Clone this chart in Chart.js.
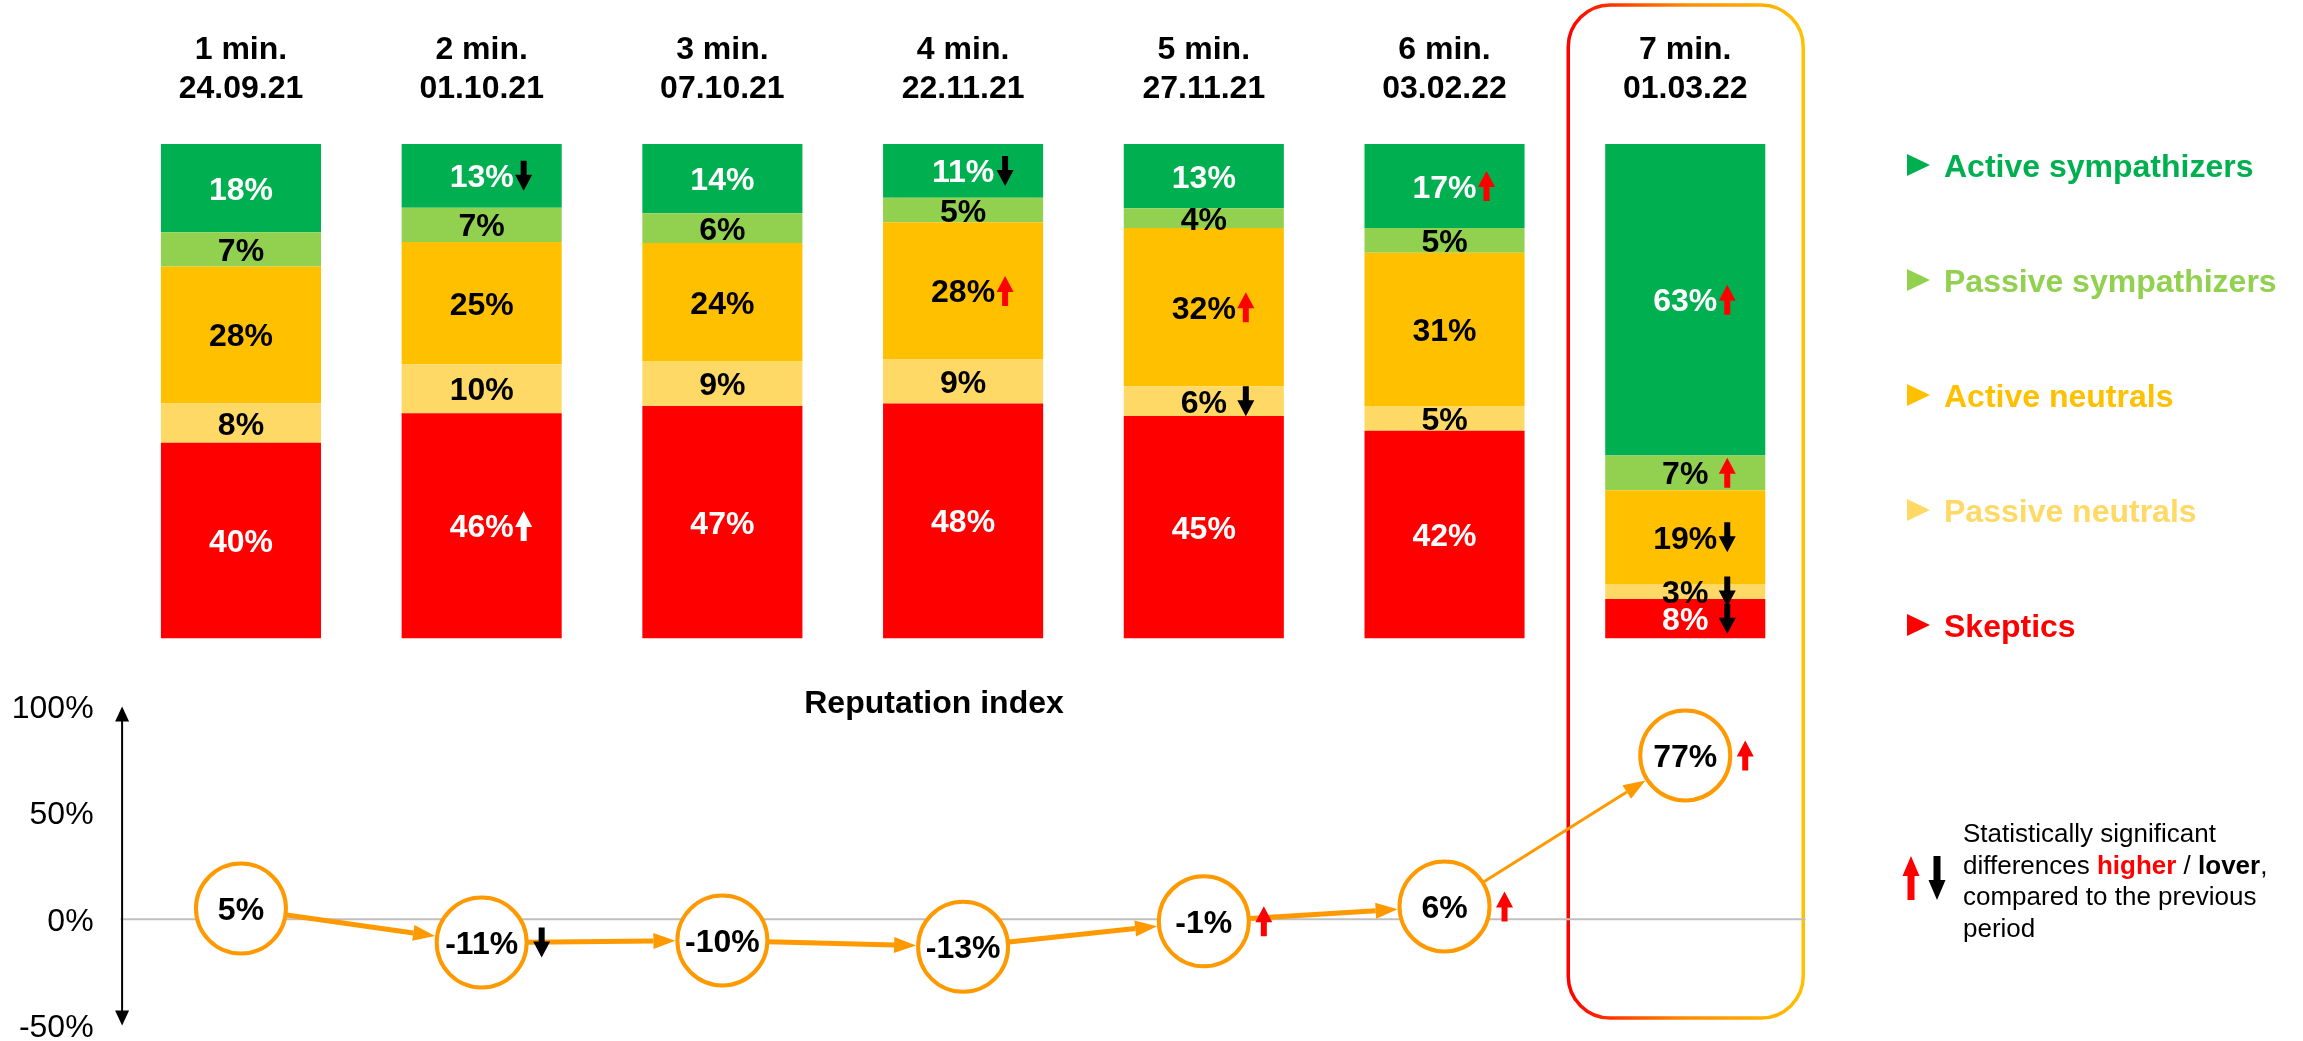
<!DOCTYPE html>
<html>
<head>
<meta charset="utf-8">
<script src="https://cdn.jsdelivr.net/npm/chart.js@4.4.0/dist/chart.umd.min.js"></script>
<style>
	html, body { margin: 0; padding: 0; background: #fff; overflow: hidden; }
	#wrap { position: relative; width: 2303px; height: 1041px; }
	canvas { position: absolute; left: 0; top: 0; }
</style>
</head>
<body>
<div id="wrap">
	<canvas id="bars" width="2303" height="1041"></canvas>
	<canvas id="index" width="2303" height="1041"></canvas>
</div>
<script>
// waves and dates
const periods = ['1 min.', '2 min.', '3 min.', '4 min.', '5 min.', '6 min.', '7 min.'];
const dates = ['24.09.21', '01.10.21', '07.10.21', '22.11.21', '27.11.21', '03.02.22', '01.03.22'];

// shares, % (bottom to top of the stack)
const skeptics = [40, 46, 47, 48, 45, 42, 8];
const passiveNeutrals = [8, 10, 9, 9, 6, 5, 3];
const activeNeutrals = [28, 25, 24, 28, 32, 31, 19];
const passiveSympathizers = [7, 7, 6, 5, 4, 5, 7];
const activeSympathizers = [18, 13, 14, 11, 13, 17, 63];

// significant changes vs previous wave: 1 higher, -1 lower
const sigSkeptics = [0, 1, 0, 0, 0, 0, -1];
const sigPassiveNeutrals = [0, 0, 0, 0, -1, 0, -1];
const sigActiveNeutrals = [0, 0, 0, 1, 1, 0, -1];
const sigPassiveSympathizers = [0, 0, 0, 0, 0, 0, 1];
const sigActiveSympathizers = [0, -1, 0, -1, 0, 1, 1];

// reputation index
const reputation = [5, -11, -10, -13, -1, 6, 77];
const sigReputation = [0, -1, 0, 0, 1, 1, 1];
const indexTicks = [100, 50, 0, -50];

const FONT = "'Liberation Sans', Arial, Helvetica, sans-serif";
const ORANGE = '#FF9900';

const series = [
	{label: 'Skeptics', values: skeptics, sig: sigSkeptics, color: '#FF0000', text: '#fff'},
	{label: 'Passive neutrals', values: passiveNeutrals, sig: sigPassiveNeutrals, color: '#FFD966', text: '#000'},
	{label: 'Active neutrals', values: activeNeutrals, sig: sigActiveNeutrals, color: '#FFC000', text: '#000'},
	{label: 'Passive sympathizers', values: passiveSympathizers, sig: sigPassiveSympathizers, color: '#92D050', text: '#000'},
	{label: 'Active sympathizers', values: activeSympathizers, sig: sigActiveSympathizers, color: '#00B050', text: '#fff'},
];

// each column is shown as 100%
const totals = periods.map((p, i) => series.reduce((s, d) => s + d.values[i], 0));

function sigArrow(ctx, x, y, dir, color, h, headW, headL, shaftW) {
	h = h || 30; headW = headW || 17; headL = headL || 16; shaftW = shaftW || 6;
	const top = y - h / 2, bot = y + h / 2;
	ctx.save();
	ctx.fillStyle = color;
	ctx.beginPath();
	if (dir > 0) {
		ctx.moveTo(x, top);
		ctx.lineTo(x + headW / 2, top + headL);
		ctx.lineTo(x + shaftW / 2, top + headL);
		ctx.lineTo(x + shaftW / 2, bot);
		ctx.lineTo(x - shaftW / 2, bot);
		ctx.lineTo(x - shaftW / 2, top + headL);
		ctx.lineTo(x - headW / 2, top + headL);
	} else {
		ctx.moveTo(x, bot);
		ctx.lineTo(x + headW / 2, bot - headL);
		ctx.lineTo(x + shaftW / 2, bot - headL);
		ctx.lineTo(x + shaftW / 2, top);
		ctx.lineTo(x - shaftW / 2, top);
		ctx.lineTo(x - shaftW / 2, bot - headL);
		ctx.lineTo(x - headW / 2, bot - headL);
	}
	ctx.closePath();
	ctx.fill();
	ctx.restore();
}

function sigColor(dir, bg) {
	if (dir < 0) return '#000';
	return bg === '#FF0000' ? '#fff' : '#FF0000';
}

const barDecor = {
	id: 'barDecor',
	afterDatasetsDraw(chart) {
		const ctx = chart.ctx;
		const xs = chart.scales.x;
		ctx.save();
		// segment labels + arrows
		ctx.font = 'bold 32px ' + FONT;
		ctx.textAlign = 'center';
		ctx.textBaseline = 'alphabetic';
		series.forEach((s, di) => {
			chart.getDatasetMeta(di).data.forEach((bar, i) => {
				const cy = (bar.y + bar.base) / 2;
				ctx.fillStyle = s.text;
				ctx.fillText(s.values[i] + '%', bar.x, cy + 11.5);
				if (s.sig[i]) sigArrow(ctx, bar.x + 42, cy, s.sig[i], sigColor(s.sig[i], s.color));
			});
		});
		// column headers
		ctx.fillStyle = '#000';
		periods.forEach((p, i) => {
			const x = xs.getPixelForValue(i);
			ctx.fillText(p, x, 59);
			ctx.fillText(dates[i], x, 98);
		});
		// legend
		ctx.textAlign = 'left';
		series.slice().reverse().forEach((s, k) => {
			const y = 165 + k * 115;
			ctx.fillStyle = s.color;
			ctx.beginPath();
			ctx.moveTo(1907, y - 11);
			ctx.lineTo(1930, y);
			ctx.lineTo(1907, y + 11);
			ctx.closePath();
			ctx.fill();
			ctx.fillText(s.label, 1944, y + 11.5);
		});
		// highlight frame around the last wave
		const last = xs.getPixelForValue(periods.length - 1);
		const x0 = last - 117, x1 = last + 118, y0 = 5, y1 = 1018, r = 42;
		const g = ctx.createLinearGradient(x0, 0, x1, 0);
		g.addColorStop(0, '#FF0000');
		g.addColorStop(0.5, '#FF8C00');
		g.addColorStop(1, '#FFC000');
		ctx.strokeStyle = g;
		ctx.lineWidth = 3.5;
		ctx.beginPath();
		ctx.roundRect(x0, y0, x1 - x0, y1 - y0, r);
		ctx.stroke();
		ctx.restore();
	}
};

new Chart(document.getElementById('bars').getContext('2d'), {
	type: 'bar',
	data: {
		labels: periods,
		datasets: series.map(s => ({
			label: s.label,
			data: s.values.map((v, i) => v / totals[i] * 100),
			backgroundColor: s.color,
			borderWidth: 0,
			categoryPercentage: 1,
			barPercentage: 0.665,
		})),
	},
	options: {
		responsive: false,
		animation: false,
		events: [],
		layout: {autoPadding: false, padding: {left: 120.6, right: 497.4, top: 144, bottom: 402.5}},
		plugins: {legend: {display: false}, tooltip: {enabled: false}},
		scales: {
			x: {stacked: true, display: false},
			y: {stacked: true, display: false, min: 0, max: 100},
		},
	},
	plugins: [barDecor],
});

const indexDecor = {
	id: 'indexDecor',
	beforeDatasetsDraw(chart) {
		const ctx = chart.ctx;
		const ys = chart.scales.y;
		const area = chart.chartArea;
		ctx.save();
		// ticks and zero line
		ctx.font = '32px ' + FONT;
		ctx.textAlign = 'right';
		ctx.fillStyle = '#000';
		indexTicks.forEach(v => {
			ctx.fillText(v + '%', area.left - 27, ys.getPixelForValue(v) + 11.5);
		});
		const y0 = ys.getPixelForValue(0);
		ctx.strokeStyle = '#BFBFBF';
		ctx.lineWidth = 2;
		ctx.beginPath();
		ctx.moveTo(area.left, y0);
		ctx.lineTo(area.right, y0);
		ctx.stroke();
		// vertical axis with two arrow heads
		const ax = area.left + 1.5, top = ys.getPixelForValue(100), bot = ys.getPixelForValue(-50);
		ctx.strokeStyle = '#000';
		ctx.lineWidth = 2;
		ctx.beginPath();
		ctx.moveTo(ax, top + 10);
		ctx.lineTo(ax, bot - 10);
		ctx.stroke();
		ctx.beginPath();
		ctx.moveTo(ax, top); ctx.lineTo(ax + 7, top + 15); ctx.lineTo(ax - 7, top + 15);
		ctx.closePath(); ctx.fill();
		ctx.beginPath();
		ctx.moveTo(ax, bot); ctx.lineTo(ax + 7, bot - 15); ctx.lineTo(ax - 7, bot - 15);
		ctx.closePath(); ctx.fill();
		// arrows between points
		const pts = chart.getDatasetMeta(0).data;
		const r = 46;
		ctx.strokeStyle = ORANGE;
		ctx.fillStyle = ORANGE;
		for (let i = 0; i < pts.length - 1; i++) {
			const a = pts[i], b = pts[i + 1];
			const dx = b.x - a.x, dy = b.y - a.y, len = Math.hypot(dx, dy);
			const ux = dx / len, uy = dy / len;
			const sx = a.x + ux * r, sy = a.y + uy * r;
			const ex = b.x - ux * (r + 1), ey = b.y - uy * (r + 1);
			const hl = 22, hw = 8;
			ctx.lineWidth = i === pts.length - 2 ? 3 : 5;
			ctx.beginPath();
			ctx.moveTo(sx, sy);
			ctx.lineTo(ex - ux * hl, ey - uy * hl);
			ctx.stroke();
			ctx.beginPath();
			ctx.moveTo(ex, ey);
			ctx.lineTo(ex - ux * hl - uy * hw, ey - uy * hl + ux * hw);
			ctx.lineTo(ex - ux * hl + uy * hw, ey - uy * hl - ux * hw);
			ctx.closePath();
			ctx.fill();
		}
		ctx.restore();
	},
	afterDatasetsDraw(chart) {
		const ctx = chart.ctx;
		const pts = chart.getDatasetMeta(0).data;
		ctx.save();
		ctx.font = 'bold 32px ' + FONT;
		ctx.textAlign = 'center';
		ctx.fillStyle = '#000';
		pts.forEach((p, i) => {
			ctx.fillText(reputation[i] + '%', p.x, p.y + 11.5);
			if (sigReputation[i]) sigArrow(ctx, p.x + 60, p.y, sigReputation[i], sigColor(sigReputation[i], '#fff'));
		});
		ctx.fillText('Reputation index', 934, 713);
		// note on significance
		ctx.textAlign = 'left';
		sigArrow(ctx, 1911, 878, 1, '#FF0000', 44, 17, 20, 7);
		sigArrow(ctx, 1937, 878, -1, '#000', 44, 17, 20, 7);
		const nx = 1963;
		const reg = '26px ' + FONT, bold = 'bold 26px ' + FONT;
		ctx.font = reg;
		ctx.fillText('Statistically significant', nx, 842);
		let x = nx;
		[['differences ', reg, '#000'], ['higher', bold, '#FF0000'], [' / ', reg, '#000'], ['lover', bold, '#000'], [',', reg, '#000']].forEach(([t, f, c]) => {
			ctx.font = f;
			ctx.fillStyle = c;
			ctx.fillText(t, x, 873.5);
			x += ctx.measureText(t).width;
		});
		ctx.font = reg;
		ctx.fillStyle = '#000';
		ctx.fillText('compared to the previous', nx, 905);
		ctx.fillText('period', nx, 937);
		ctx.restore();
	}
};

new Chart(document.getElementById('index').getContext('2d'), {
	type: 'line',
	data: {
		labels: periods,
		datasets: [{
			label: 'Reputation index',
			data: reputation,
			showLine: false,
			pointRadius: 45,
			pointBackgroundColor: '#fff',
			pointBorderColor: ORANGE,
			pointBorderWidth: 4,
			clip: false,
		}],
	},
	options: {
		responsive: false,
		animation: false,
		events: [],
		layout: {autoPadding: false, padding: {left: 120.6, right: 497.4, top: 706.5, bottom: 15.5}},
		plugins: {legend: {display: false}, tooltip: {enabled: false}},
		scales: {
			x: {type: 'category', offset: true, display: false},
			y: {display: false, min: -50, max: 100},
		},
	},
	plugins: [indexDecor],
});
</script>
</body>
</html>
